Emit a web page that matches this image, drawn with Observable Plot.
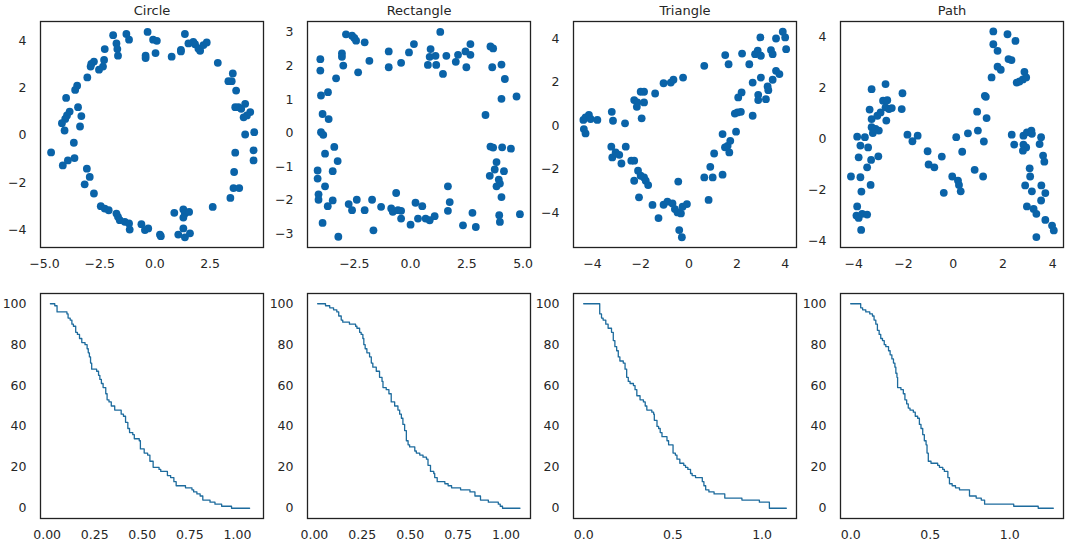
<!DOCTYPE html>
<html>
<head>
<meta charset="utf-8">
<script src="https://cdn.jsdelivr.net/npm/d3@7"></script>
<script src="https://cdn.jsdelivr.net/npm/@observablehq/plot@0.6"></script>
<style>
  html, body { margin: 0; padding: 0; background: #fff; }
  #fig { position: relative; width: 1065px; height: 544px; background: #fff; overflow: hidden; }
  #fig > svg { position: absolute; }
</style>
</head>
<body>
<div id="fig"></div>
<script>
// ---------- data ----------
const titles = ["Circle", "Rectangle", "Triangle", "Path"];

const circleX = [-1.89,-1.29,-1.17,-0.33,-0.08,0.09,0.03,-0.42,-0.42,0.76,1.18,1.18,1.36,1.52,1.74,1.82,1.97,2.05,2.20,2.35,2.85,-1.74,-1.70,-1.67,-2.27,-2.30,-2.35,-2.53,-2.76,-2.88,-2.91,-3.06,-3.52,-3.61,-4.02,-3.48,-3.86,-3.98,-4.06,-4.21,-3.33,-3.39,-4.09,-3.67,-4.70,-3.64,-3.94,-4.17,-3.08,-2.95,-3.18,-2.76,-2.45,-2.27,-2.09,-1.74,-1.67,-1.59,-1.36,-1.17,-1.14,-0.61,-0.45,-0.30,0.23,0.27,0.88,1.29,1.36,1.55,1.29,1.29,1.06,1.36,1.59,2.62,3.42,3.56,3.82,3.59,3.64,4.47,4.47,4.09,4.50,4.32,4.09,3.91,4.17,4.02,3.79,3.64,3.68,3.53,3.48,3.33];
const circleY = [4.25,4.30,4.06,4.39,4.06,4.01,3.49,3.38,3.28,3.34,3.63,3.56,4.30,3.90,3.97,3.87,3.69,3.59,3.83,3.94,3.08,3.90,3.66,3.38,3.66,3.20,2.92,2.79,3.13,3.03,2.92,2.46,2.11,1.93,1.59,1.20,1.01,0.85,0.70,0.52,0.82,0.38,0.21,-0.31,-0.72,-0.96,-1.06,-1.27,-1.41,-1.76,-2.07,-2.46,-3.00,-3.10,-3.17,-3.31,-3.45,-3.59,-3.66,-3.73,-3.99,-3.76,-4.01,-3.94,-4.20,-4.27,-3.28,-3.14,-3.31,-3.24,-3.48,-3.94,-4.20,-4.32,-4.15,-3.03,-2.65,-2.23,-2.23,-1.55,-0.73,-0.63,-1.06,0.04,0.14,0.99,1.34,1.13,0.85,0.77,1.20,1.20,1.90,2.63,2.30,2.30];

const rectX = [-2.87,-2.60,-2.50,-2.42,-2.04,-3.05,-3.05,-2.99,-3.31,-2.33,-1.83,-0.97,-0.97,-0.42,-0.07,0.15,0.89,0.85,0.77,1.11,1.14,1.32,1.44,1.59,2.01,2.11,2.44,2.48,2.66,2.66,3.55,3.67,-4.01,-4.01,-3.98,-3.67,-3.91,-3.64,-3.98,-3.88,-3.39,-3.80,-3.24,-3.46,-4.13,-4.13,-3.80,-4.09,-4.09,-3.68,-3.46,-3.91,-3.21,-2.75,-2.60,-2.39,-2.04,-1.71,-1.65,-1.31,-0.86,-0.79,-0.64,-0.56,-0.42,-0.42,0.00,0.22,0.33,0.52,0.67,0.85,1.07,1.66,1.74,1.66,2.33,2.75,2.90,3.33,3.63,4.04,4.19,4.04,4.71,3.55,3.67,4.07,4.46,3.82,3.74,4.15,3.52,3.92,3.97,3.82,4.04,3.94,3.97,4.86];
const rectY = [2.94,2.90,2.83,2.75,2.70,2.37,2.27,2.01,1.63,1.81,2.15,2.43,1.96,2.09,2.40,2.65,2.50,2.27,2.03,2.30,2.03,3.01,1.76,2.30,2.12,2.33,2.43,1.96,2.65,2.33,2.58,2.52,2.20,1.86,1.12,1.22,0.57,0.42,0.03,-0.05,-0.41,-0.61,-0.83,-1.13,-1.11,-1.35,-1.58,-1.82,-1.98,-2.17,-2.00,-2.67,-3.08,-2.11,-2.29,-1.98,-2.29,-1.98,-2.89,-2.19,-2.24,-2.34,-1.78,-2.29,-2.31,-2.54,-2.72,-2.07,-2.54,-2.17,-2.54,-2.59,-2.47,-1.58,-2.05,-2.31,-2.74,-2.37,-2.79,0.54,1.96,2.04,1.61,1.02,1.09,-0.40,-0.43,-0.42,-0.46,-0.86,-1.08,-1.13,-1.27,-1.38,-1.50,-1.58,-1.90,-2.44,-2.64,-2.41];

const triX = [-4.38,-4.29,-4.15,-4.08,-3.80,-4.36,-4.29,-3.20,-3.15,-2.65,-2.27,-2.14,-2.16,-2.00,-1.86,-1.86,-1.96,-1.40,-1.05,-0.75,-0.64,-0.24,0.64,-3.22,-2.62,-3.18,-3.04,-2.89,-2.80,-2.39,-2.27,-2.11,-2.00,-1.86,-1.79,-1.69,-2.27,-2.07,-1.51,-1.26,-1.05,-0.89,-0.68,-0.58,-0.47,-0.33,-0.26,-0.08,-0.44,-0.40,-0.29,0.64,0.89,0.99,0.82,1.05,1.40,1.40,1.50,1.61,1.68,1.72,1.96,1.91,2.02,2.16,2.05,2.19,2.65,2.65,2.88,2.88,2.99,3.20,3.27,3.30,3.48,3.62,3.76,1.51,1.65,2.21,2.51,2.75,2.86,2.97,2.99,3.41,3.48,3.62,3.90,4.00,4.04];
const triY = [0.27,0.38,0.50,0.31,0.27,-0.15,-0.35,0.64,0.23,0.11,1.18,1.07,0.87,1.56,1.56,1.07,0.34,1.48,1.95,1.98,2.11,2.21,2.75,-0.96,-0.96,-1.45,-1.22,-1.33,-1.73,-1.60,-1.60,-2.06,-2.29,-2.37,-2.52,-2.72,-2.52,-3.28,-3.63,-4.23,-3.62,-3.48,-3.56,-3.82,-3.97,-4.02,-3.71,-3.59,-2.56,-4.78,-5.11,-2.37,-1.88,-2.37,-3.40,-1.27,-0.38,-2.24,-0.99,-0.92,-1.22,-0.69,-0.27,0.56,0.61,0.64,1.30,1.53,0.46,1.98,1.42,1.18,2.21,1.22,1.80,1.63,2.11,2.52,2.37,3.24,2.82,3.31,2.82,3.28,3.44,4.05,3.21,3.47,3.28,4.00,4.31,4.05,3.51];

const pathX = [-4.11,-3.86,-3.55,-3.73,-3.42,-3.80,-3.73,-3.69,-3.86,-3.89,-3.80,-3.66,-3.46,-3.70,-3.46,-3.32,-3.30,-3.01,-3.28,-3.36,-3.28,-3.28,-3.23,-3.12,-2.99,-3.05,-2.92,-2.82,-2.72,-2.69,-2.72,-2.65,-2.58,-2.47,-2.07,-2.04,-1.84,-1.64,-1.43,-1.03,-0.99,-0.76,-0.46,-0.38,-0.04,0.12,0.19,0.23,0.30,0.36,0.59,0.86,0.99,0.96,1.20,1.23,1.27,1.31,1.34,1.54,1.61,1.61,1.78,1.78,1.91,2.18,2.22,2.34,2.50,2.55,2.66,2.80,2.86,2.93,2.35,2.45,2.82,2.82,2.93,2.96,3.14,3.16,2.80,2.89,2.96,3.07,3.09,3.16,3.23,3.34,3.34,3.47,3.53,3.54,3.53,3.61,3.66,3.70,3.70,3.97,4.04];
const pathY = [-1.47,0.09,0.07,-0.26,-0.33,-0.72,-1.50,-2.06,-2.64,-3.00,-3.09,-2.93,-2.96,-3.56,-1.11,-1.80,-0.82,-0.68,1.95,1.15,0.78,0.46,0.23,0.39,0.33,0.91,1.04,1.50,2.15,0.72,1.24,1.52,1.17,1.21,1.17,1.79,0.17,-0.09,0.13,-0.48,-1.00,-1.11,-0.69,-2.11,-1.47,0.07,-1.63,-1.80,-2.05,-0.50,0.22,-1.21,0.33,1.07,-1.47,-0.10,1.69,1.65,0.82,2.41,4.21,3.71,3.45,2.83,2.71,4.10,3.13,3.09,3.84,2.21,2.25,2.33,2.63,2.41,0.17,-0.22,0.13,-0.22,-0.33,0.26,0.33,0.20,-0.46,-1.82,-2.64,-1.15,-1.47,-2.05,-2.74,-2.93,-3.84,-0.20,0.07,-1.82,-2.41,-0.65,-0.89,-2.12,-3.17,-3.39,-3.58];

// bottom row: distance (x) and percentage remaining (y), step curves
const circleDist = [0.017,0.040,0.052,0.104,0.110,0.121,0.130,0.138,0.150,0.159,0.170,0.182,0.199,0.210,0.216,0.222,0.228,0.234,0.260,0.270,0.277,0.285,0.294,0.308,0.315,0.325,0.337,0.355,0.389,0.401,0.412,0.424,0.433,0.450,0.458,0.484,0.490,0.510,0.528,0.540,0.557,0.588,0.597,0.632,0.649,0.666,0.678,0.727,0.761,0.770,0.787,0.804,0.818,0.856,0.882,0.917,0.969,1.064];
const circlePct  = [100,99,96,95,93,92,90,89,86,85,83,81,80,78,76,74,71,68,67,65,63,61,59,56,53,52,50,48,46,45,42,39,37,36,34,33,29,27,26,23,20,19,18,16,15,13,11,10,9,8,7,6,4,3,2,1,0,0];

const rectDist = [0.017,0.058,0.080,0.100,0.117,0.127,0.140,0.148,0.183,0.215,0.222,0.236,0.244,0.253,0.258,0.265,0.274,0.288,0.297,0.305,0.323,0.340,0.353,0.358,0.375,0.389,0.401,0.419,0.436,0.445,0.454,0.462,0.471,0.480,0.489,0.497,0.524,0.532,0.550,0.567,0.585,0.593,0.606,0.623,0.628,0.641,0.681,0.698,0.716,0.763,0.812,0.838,0.867,0.908,0.960,0.970,0.982,1.073];
const rectPct  = [100,99,98,97,96,94,92,91,90,89,88,86,85,83,80,78,76,74,71,69,67,64,62,59,58,56,52,50,48,46,44,41,38,33,31,30,28,27,26,25,24,21,18,17,15,13,12,11,10,9,8,6,4,3,2,1,0,0];

const triDist = [0.000,0.090,0.100,0.109,0.124,0.137,0.156,0.166,0.175,0.185,0.194,0.203,0.222,0.232,0.241,0.250,0.260,0.279,0.288,0.298,0.316,0.335,0.345,0.354,0.382,0.392,0.396,0.411,0.420,0.429,0.439,0.467,0.476,0.501,0.514,0.523,0.539,0.561,0.571,0.584,0.599,0.608,0.627,0.665,0.674,0.684,0.702,0.731,0.791,0.887,0.985,1.041,1.136];
const triPct  = [100,95,93,92,90,88,86,82,79,77,74,72,71,68,64,62,61,60,58,55,53,52,50,48,47,46,43,40,39,37,35,33,31,27,26,24,22,21,20,19,17,16,15,13,11,9,8,7,5,4,3,0,0];

const pathDist = [0.000,0.063,0.075,0.095,0.120,0.137,0.147,0.158,0.168,0.179,0.189,0.200,0.211,0.221,0.238,0.248,0.259,0.269,0.278,0.284,0.291,0.295,0.316,0.331,0.341,0.352,0.362,0.373,0.394,0.406,0.421,0.432,0.442,0.453,0.463,0.474,0.480,0.488,0.505,0.547,0.558,0.579,0.589,0.611,0.621,0.638,0.659,0.684,0.747,0.789,0.821,0.842,1.025,1.179,1.274];
const pathPct  = [100,98,97,96,95,94,92,90,87,85,83,82,80,79,77,75,73,71,69,66,64,59,58,56,53,51,49,48,47,45,44,41,39,36,33,31,27,23,22,21,20,19,18,15,12,11,10,9,6,5,4,2,1,0,0];

// ---------- layout ----------
const dotColor = "#0a63a8";
const lineColor = "#1d6b9d";
const frameLefts = [40, 307, 573, 840];
const ML = 40, MR = 2, FW = 223;

const scatterSets = [
  {x: circleX, y: circleY, xd: [-5.18, 4.92], yd: [-4.75, 4.83], xt: [-5, -2.5, 0, 2.5], yt: [-4, -2, 0, 2, 4], xf: ".1f"},
  {x: rectX, y: rectY, xd: [-4.58, 5.33], yd: [-3.40, 3.32], xt: [-2.5, 0, 2.5, 5], yt: [-3, -2, -1, 0, 1, 2, 3], xf: ".1f"},
  {x: triX, y: triY, xd: [-4.79, 4.47], yd: [-5.58, 4.78], xt: [-4, -2, 0, 2, 4], yt: [-4, -2, 0, 2, 4], xf: "d"},
  {x: pathX, y: pathY, xd: [-4.53, 4.43], yd: [-4.25, 4.60], xt: [-4, -2, 0, 2, 4], yt: [-4, -2, 0, 2, 4], xf: "d"}
];
const stepSets = [
  {x: circleDist, y: circlePct, xd: [-0.035, 1.137], xt: [0, 0.25, 0.5, 0.75, 1], xf: ".2f"},
  {x: rectDist, y: rectPct, xd: [-0.036, 1.128], xt: [0, 0.25, 0.5, 0.75, 1], xf: ".2f"},
  {x: triDist, y: triPct, xd: [-0.057, 1.193], xt: [0, 0.5, 1], xf: ".1f"},
  {x: pathDist, y: pathPct, xd: [-0.064, 1.338], xt: [0, 0.5, 1], xf: ".1f"}
];

const fig = document.getElementById("fig");
const style = {fontFamily: "DejaVu Sans, sans-serif", fontSize: "12.5px", color: "#262626", background: "transparent", overflow: "visible"};

function place(svg, left, top) {
  svg.style.left = left + "px";
  svg.style.top = top + "px";
  fig.appendChild(svg);
}

// top row: scatter plots
scatterSets.forEach((s, i) => {
  const data = s.x.map((v, k) => ({x: v, y: s.y[k]}));
  const p = Plot.plot({
    width: ML + FW + MR, height: 279,
    marginLeft: ML, marginRight: MR, marginTop: 21, marginBottom: 32,
    style,
    x: {domain: s.xd, ticks: s.xt, tickFormat: d3.format(s.xf), tickSize: 0, tickPadding: 12, label: null},
    y: {domain: s.yd, ticks: s.yt, tickFormat: d3.format("d"), tickSize: 0, tickPadding: 14, label: null},
    marks: [
      Plot.dot(data, {x: "x", y: "y", r: 3.9, fill: dotColor, stroke: "none"}),
      Plot.frame({stroke: "#222", strokeWidth: 1.3}),
      Plot.text([titles[i]], {frameAnchor: "top", dy: -7, lineAnchor: "bottom", fontSize: 13, fill: "#262626"})
    ]
  });
  place(p, frameLefts[i] - ML, 0);
});

// bottom row: step curves
stepSets.forEach((s, i) => {
  const data = s.x.map((v, k) => ({x: v, y: s.y[k]}));
  const p = Plot.plot({
    width: ML + FW + MR, height: 264,
    marginLeft: ML, marginRight: MR, marginTop: 13, marginBottom: 26,
    style,
    x: {domain: s.xd, ticks: s.xt, tickFormat: d3.format(s.xf), tickSize: 0, tickPadding: 12, label: null},
    y: {domain: [-5, 105], ticks: [0, 20, 40, 60, 80, 100], tickFormat: d3.format("d"), tickSize: 0, tickPadding: 14, label: null},
    marks: [
      Plot.line(data, {x: "x", y: "y", curve: "step-after", stroke: lineColor, strokeWidth: 1.3}),
      Plot.frame({stroke: "#222", strokeWidth: 1.3})
    ]
  });
  place(p, frameLefts[i] - ML, 280);
});
</script>
</body>
</html>
